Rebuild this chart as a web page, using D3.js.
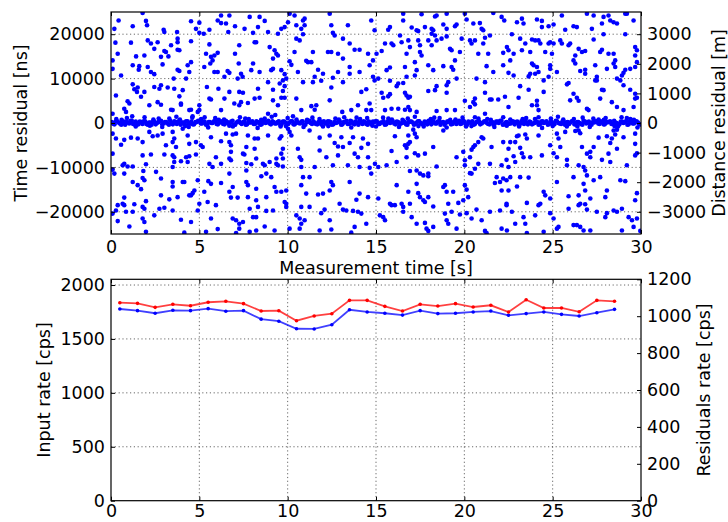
<!DOCTYPE html>
<html>
<head>
<meta charset="utf-8">
<script src="https://cdn.jsdelivr.net/npm/d3@7"></script>
<style>
  body { margin: 0; background: #fff; }
  text { font-family: "DejaVu Sans", sans-serif; fill: #000; }
  .grid line { stroke: #000; stroke-width: 0.6; stroke-dasharray: 1.2,2.6; }
</style>
</head>
<body>
<svg id="chart"></svg>
<script>
// tick values
const timeTicks = [0, 5, 10, 15, 20, 25, 30];
const residualTicks = [-20000, -10000, 0, 10000, 20000];
const distanceTicks = [-3000, -2000, -1000, 0, 1000, 2000, 3000];
const inputTicks = [0, 500, 1000, 1500, 2000];
const residualRateTicks = [0, 200, 400, 600, 800, 1000, 1200];

// bottom panel: 1 s bins
const binTimes = [0.5, 1.5, 2.5, 3.5, 4.5, 5.5, 6.5, 7.5, 8.5, 9.5, 10.5, 11.5, 12.5, 13.5, 14.5,
  15.5, 16.5, 17.5, 18.5, 19.5, 20.5, 21.5, 22.5, 23.5, 24.5, 25.5, 26.5, 27.5, 28.5];
const inputRate = [1836, 1830, 1793, 1821, 1808, 1840, 1849, 1827, 1759, 1762, 1669, 1713, 1734, 1858, 1858,
  1802, 1759, 1821, 1805, 1827, 1796, 1812, 1750, 1864, 1787, 1787, 1752, 1858, 1849];
const residualRate = [1039, 1030, 1016, 1032, 1030, 1041, 1027, 1030, 984, 973, 932, 931, 954, 1035, 1023,
  1016, 1006, 1030, 1014, 1016, 1023, 1028, 1005, 1014, 1023, 1010, 1001, 1019, 1037];

// top panel: [time s, residual us] of uncorrelated hits
const outliers = [
  [1.79,24.8],[6.23,24.2],[6.70,24.2],[6.04,23.1],[6.23,22.5],[6.51,22.4],[0.43,23.1],[1.98,23.0],[2.04,22.0],[1.23,21.8],
  [4.53,22.9],[5.00,22.6],[4.81,21.2],[7.02,21.8],[2.98,21.0],[3.02,20.5],[3.74,20.5],[5.00,20.3],[5.25,20.1],[5.57,21.0],
  [6.64,20.5],[0.19,21.2],[3.77,19.0],[3.77,18.2],[0.25,18.1],[1.13,18.1],[2.08,18.6],[2.26,17.9],[2.64,18.2],[3.40,17.5],
  [4.53,18.4],[5.57,17.7],[7.26,17.5],[2.45,16.7],[3.02,16.2],[3.11,16.0],[3.77,16.5],[3.87,16.4],[0.38,15.6],[1.42,15.0],
  [1.89,15.2],[2.83,14.9],[3.25,15.0],[5.38,15.6],[5.66,14.9],[6.04,15.8],[5.85,15.2],[7.02,15.6],[0.09,14.1],[5.75,14.1],
  [5.62,13.4],[4.53,13.7],[4.34,13.0],[2.92,13.2],[1.23,13.0],[1.60,12.8],[2.08,12.6],[0.09,12.2],[1.57,12.0],[2.26,11.5],
  [2.45,11.0],[3.77,12.0],[3.87,11.7],[4.43,11.5],[5.28,12.6],[5.85,11.5],[6.04,11.5],[6.60,11.7],[6.70,11.3],[7.23,13.4],
  [7.36,11.1],[0.57,10.7],[3.55,10.0],[4.25,10.0],[6.42,10.4],[7.17,10.0],[7.45,10.4],[1.23,8.7],[1.32,7.6],[1.47,7.0],
  [1.51,8.0],[1.89,7.0],[2.45,8.1],[2.74,7.7],[2.83,8.5],[3.21,8.0],[3.58,7.7],[4.06,7.4],[5.43,8.1],[6.08,7.7],
  [6.70,7.0],[7.26,7.0],[0.28,6.2],[1.70,5.9],[3.87,6.0],[3.96,4.4],[5.57,5.5],[5.66,5.3],[6.42,5.5],[0.94,4.9],
  [1.04,4.4],[2.17,4.0],[2.64,4.7],[2.83,4.1],[3.96,4.1],[5.00,4.0],[6.98,4.4],[7.26,4.0],[7.36,4.7],[0.75,3.2],
  [0.85,2.5],[3.40,3.0],[3.49,2.9],[4.43,2.9],[4.53,3.0],[4.91,2.5],[5.00,2.9],[6.23,2.9],[4.62,1.5],[0.09,2.1],
  [4.06,-1.3],[3.49,-2.0],[2.17,-2.0],[2.64,-2.8],[2.92,-2.4],[0.09,-2.4],[0.28,-3.5],[0.75,-3.8],[1.13,-3.3],[1.51,-3.5],
  [2.36,-3.0],[3.58,-3.5],[4.34,-2.8],[4.81,-4.3],[5.09,-5.0],[5.19,-5.4],[5.66,-3.2],[6.23,-4.1],[6.51,-2.4],[6.70,-4.3],
  [6.89,-2.6],[7.08,-2.4],[0.57,-4.9],[1.79,-4.3],[3.11,-5.0],[3.49,-4.3],[3.68,-5.4],[4.43,-4.7],[6.79,-5.0],[0.09,-6.9],
  [1.79,-7.3],[2.26,-7.1],[3.02,-7.1],[3.49,-7.3],[3.58,-7.7],[4.25,-7.7],[4.43,-7.5],[3.96,-8.6],[4.34,-8.8],[4.81,-7.1],
  [5.94,-7.7],[6.79,-6.5],[6.70,-8.0],[6.79,-8.4],[7.55,-7.1],[0.75,-9.2],[0.66,-9.5],[0.94,-9.8],[1.23,-9.8],[1.98,-9.3],
  [3.49,-9.9],[3.58,-8.8],[0.09,-10.5],[0.19,-11.4],[0.75,-11.4],[1.83,-10.8],[2.55,-11.0],[5.75,-9.9],[6.70,-11.4],[5.57,-9.2],
  [6.23,-9.2],[1.79,-12.4],[1.89,-12.9],[1.23,-13.3],[1.51,-14.0],[1.70,-14.9],[2.83,-12.5],[3.49,-13.3],[3.49,-14.3],[4.06,-13.3],
  [4.15,-13.3],[4.91,-12.9],[5.51,-13.1],[5.66,-13.7],[6.23,-13.5],[6.89,-14.4],[5.28,-15.5],[4.53,-16.3],[4.62,-15.8],[4.72,-15.2],
  [6.70,-15.5],[0.75,-16.8],[1.98,-17.6],[2.83,-16.3],[3.30,-17.2],[3.77,-16.7],[4.43,-16.3],[6.79,-16.8],[7.17,-16.8],[0.38,-18.5],
  [0.66,-18.2],[0.75,-18.5],[1.32,-18.3],[1.79,-18.9],[1.89,-19.3],[0.85,-20.0],[1.23,-20.0],[0.28,-19.7],[2.74,-19.3],[3.02,-19.1],
  [3.49,-19.7],[4.91,-19.7],[5.00,-18.2],[5.47,-17.8],[5.94,-18.5],[0.09,-20.4],[0.38,-22.1],[1.79,-21.5],[1.89,-22.3],[2.45,-20.8],
  [3.96,-21.8],[4.53,-22.3],[5.66,-21.5],[6.89,-21.5],[7.08,-21.9],[7.26,-22.7],[1.04,-23.3],[1.98,-24.5],[4.15,-24.7],[5.38,-24.5],
  [6.04,-23.9],[7.26,-23.8],[7.08,-24.8],
  [7.85,23.9],[8.41,23.9],[8.70,23.0],[7.56,21.2],[8.04,20.3],[8.32,21.6],[8.89,20.5],[9.45,20.1],[9.64,21.2],[9.83,21.6],
  [10.02,22.7],[10.39,24.2],[10.11,24.6],[10.49,22.0],[10.87,23.1],[10.96,22.0],[10.96,23.5],[12.38,24.6],[12.47,22.0],[12.56,20.3],
  [12.66,19.7],[13.13,19.0],[13.41,22.0],[14.73,23.1],[14.92,20.9],[10.77,21.2],[10.87,20.0],[10.49,19.0],[10.68,18.6],[8.13,18.2],
  [8.22,18.2],[8.98,17.1],[9.26,16.4],[9.36,15.6],[9.45,15.2],[9.17,14.5],[10.39,16.0],[11.43,16.0],[12.28,16.0],[12.47,16.0],
  [12.85,15.6],[13.13,14.5],[13.51,17.9],[13.79,16.5],[14.07,16.5],[14.55,15.6],[14.83,14.1],[11.05,14.0],[11.15,13.7],[11.34,13.7],
  [10.11,13.9],[10.21,13.1],[8.04,13.4],[7.94,11.9],[8.41,11.5],[9.07,11.9],[9.17,12.2],[9.64,11.9],[9.83,11.0],[10.58,11.5],
  [11.72,12.0],[12.00,11.1],[12.85,11.5],[13.51,12.6],[13.51,11.1],[14.07,11.5],[14.64,13.0],[8.89,9.2],[9.55,8.9],[9.73,9.6],
  [9.92,10.0],[10.87,9.2],[11.43,9.2],[11.53,10.4],[11.90,9.5],[12.56,10.2],[13.13,9.2],[14.83,10.4],[14.92,9.6],[7.47,6.8],
  [8.32,7.7],[9.17,7.5],[9.73,7.2],[9.83,8.3],[8.41,5.7],[8.13,5.5],[9.17,5.1],[9.64,5.7],[9.83,5.7],[10.49,5.5],
  [12.47,8.0],[12.38,5.1],[14.17,7.0],[14.45,7.6],[7.75,4.5],[9.45,4.0],[11.34,3.8],[11.53,3.0],[11.62,4.0],[13.09,2.5],
  [13.98,4.0],[14.64,4.4],[14.45,2.9],[13.60,2.9],[10.77,2.9],[14.73,2.9],[8.89,2.1],
  [7.75,-2.8],[8.13,-3.5],[8.32,-3.5],[8.89,-2.8],[9.55,-3.5],[9.64,-3.0],[10.11,-2.0],[10.21,-2.8],[10.02,-1.3],[11.24,-1.7],
  [11.81,-3.3],[12.38,-2.8],[13.04,-3.2],[12.66,-4.5],[12.85,-5.3],[13.13,-5.4],[13.51,-4.5],[13.70,-3.2],[14.26,-3.5],[14.55,-4.7],
  [7.47,-6.9],[7.66,-5.4],[8.13,-5.8],[9.73,-5.8],[10.58,-5.8],[13.79,-6.9],[13.98,-7.7],[14.17,-5.6],[14.55,-7.7],[8.22,-8.0],
  [9.36,-8.0],[9.64,-6.9],[9.73,-8.0],[10.68,-7.7],[10.77,-8.3],[12.19,-7.7],[11.81,-6.2],[12.85,-7.3],[7.66,-9.0],[7.94,-9.3],
  [8.60,-9.2],[8.70,-9.5],[8.98,-8.8],[9.36,-9.2],[9.45,-9.5],[9.73,-9.8],[10.77,-9.9],[11.53,-9.9],[12.56,-9.5],[13.41,-9.5],
  [14.07,-9.9],[14.64,-10.1],[14.73,-11.4],[7.66,-10.7],[8.79,-11.4],[11.24,-12.2],[7.66,-13.3],[7.75,-14.0],[8.22,-14.8],[8.51,-12.0],
  [9.07,-12.2],[9.26,-14.4],[9.36,-15.5],[9.64,-15.5],[9.92,-15.2],[10.87,-12.2],[10.77,-14.0],[11.05,-15.9],[11.72,-16.1],[12.00,-15.9],
  [12.47,-13.3],[12.56,-14.0],[12.38,-15.2],[13.51,-13.3],[14.07,-15.9],[7.75,-16.7],[8.22,-17.4],[8.79,-16.7],[9.83,-17.8],[9.92,-18.2],
  [12.94,-18.2],[13.89,-17.3],[14.55,-16.7],[7.85,-19.3],[8.32,-18.9],[8.79,-19.8],[9.17,-19.7],[9.92,-18.9],[10.77,-18.9],[11.24,-18.9],
  [11.90,-20.3],[12.09,-19.5],[12.38,-21.9],[13.13,-19.5],[13.32,-19.7],[13.70,-19.8],[13.98,-20.0],[14.17,-20.4],[7.47,-22.3],[8.04,-21.2],
  [8.22,-21.2],[8.70,-23.3],[9.26,-24.2],[8.22,-24.2],[7.85,-24.5],[10.11,-23.8],[10.49,-20.8],[10.68,-21.5],[10.77,-22.7],[10.68,-23.8],
  [10.96,-21.9],[11.81,-24.2],[12.47,-24.0],[13.60,-24.7],[13.79,-23.4],[14.45,-22.7],
  [16.54,24.6],[17.58,24.5],[18.34,24.0],[18.43,24.2],[19.00,24.6],[20.03,24.6],[21.64,24.8],[15.79,21.6],[15.69,21.0],[16.54,23.1],
  [17.02,21.5],[17.30,20.9],[17.39,20.7],[17.77,21.6],[18.15,21.2],[18.24,20.9],[18.81,22.2],[19.00,21.2],[19.47,21.8],[19.56,22.2],
  [20.13,23.3],[20.51,22.4],[20.88,22.5],[20.98,21.2],[21.07,20.9],[22.11,23.9],[22.26,23.1],[18.15,20.1],[18.34,19.7],[15.51,17.9],
  [15.88,17.9],[15.98,17.5],[16.36,19.7],[16.45,18.2],[16.83,18.6],[16.92,17.1],[17.39,18.6],[17.49,17.5],[17.96,18.6],[18.15,17.5],
  [18.43,18.6],[18.71,19.0],[19.00,19.5],[19.85,19.0],[20.32,18.6],[20.41,17.9],[20.60,18.6],[21.17,19.2],[21.07,17.9],[21.45,19.7],
  [15.03,15.6],[15.32,16.2],[16.73,15.6],[17.49,16.0],[17.58,15.2],[19.19,16.7],[19.28,16.4],[19.75,16.0],[20.79,15.6],[21.35,15.6],
  [22.20,15.8],[17.20,13.7],[17.96,13.0],[18.24,11.9],[18.81,12.8],[19.28,12.6],[19.37,12.0],[19.47,14.1],[21.26,12.8],[21.64,11.5],
  [22.20,13.0],[15.60,11.9],[15.79,12.5],[16.64,12.6],[17.30,11.9],[17.20,10.7],[16.73,10.4],[16.54,9.0],[16.17,8.3],[16.26,8.9],
  [15.79,9.5],[15.13,10.0],[19.09,9.2],[19.00,8.5],[19.56,10.0],[20.69,10.0],[21.17,9.2],[15.32,6.8],[15.41,5.7],[15.69,6.0],
  [15.79,6.5],[16.64,6.8],[16.73,6.2],[16.83,5.7],[16.92,5.9],[17.96,7.2],[18.34,7.4],[18.43,8.3],[19.00,6.8],[20.03,5.0],
  [20.60,5.5],[20.51,4.7],[20.32,3.6],[20.60,4.2],[21.45,5.3],[21.54,5.3],[21.92,5.3],[22.30,5.9],[21.17,6.8],[15.88,3.2],
  [16.26,3.2],[16.64,3.0],[16.83,3.6],[16.92,2.9],[18.43,2.7],[19.00,2.9],[19.47,2.9],[15.51,2.9],[17.30,2.5],[21.17,2.1],
  [17.11,-1.5],[17.20,-2.4],[17.30,-3.2],[16.83,-2.8],[16.92,-4.3],[16.83,-4.7],[16.64,-5.0],[16.73,-5.6],[16.07,-3.0],[18.81,-1.7],
  [18.24,-5.4],[17.77,-6.9],[17.39,-7.3],[17.20,-6.8],[16.73,-7.7],[15.88,-6.3],[20.98,-3.2],[21.07,-3.5],[20.79,-4.3],[20.60,-5.0],
  [20.51,-5.4],[21.54,-5.4],[22.20,-4.3],[20.41,-6.0],[19.94,-6.5],[20.32,-7.7],[19.56,-7.7],[20.03,-8.4],[14.94,-9.2],[15.13,-9.9],
  [15.60,-9.5],[16.17,-8.8],[16.92,-10.8],[17.30,-10.7],[17.49,-11.4],[17.68,-11.8],[17.96,-11.4],[18.43,-9.8],[20.03,-9.5],[20.32,-11.3],
  [20.41,-11.4],[20.60,-10.3],[20.79,-9.2],[21.45,-9.2],[22.11,-9.5],[22.39,-8.3],[21.83,-12.2],[22.20,-12.5],[17.96,-12.0],[16.17,-14.0],
  [16.83,-15.5],[17.30,-13.7],[17.39,-15.8],[17.49,-16.7],[17.68,-17.4],[17.77,-17.8],[17.96,-16.7],[18.81,-14.4],[18.90,-14.0],[19.00,-15.5],
  [19.37,-15.5],[20.03,-14.0],[20.13,-15.0],[20.22,-16.7],[19.94,-17.4],[19.09,-18.2],[21.73,-13.5],[22.02,-13.3],[22.39,-12.9],[22.11,-15.2],
  [22.39,-18.2],[15.13,-17.0],[15.79,-18.2],[15.88,-18.5],[16.07,-18.5],[16.45,-18.2],[16.54,-18.9],[16.92,-18.2],[18.24,-18.8],[19.66,-18.0],
  [15.22,-20.8],[15.41,-21.2],[15.51,-21.9],[16.54,-20.0],[17.02,-21.2],[17.30,-22.7],[17.77,-22.5],[17.86,-23.8],[17.96,-24.3],[18.24,-23.4],
  [18.90,-20.4],[19.00,-21.9],[19.09,-22.7],[19.28,-20.0],[19.75,-20.6],[20.13,-20.3],[20.41,-21.5],[20.69,-19.5],[20.98,-21.9],[21.45,-20.0],
  [22.02,-19.7],[22.39,-18.5],[22.11,-23.8],[21.17,-24.3],[21.26,-24.8],[19.56,-23.8],
  [22.98,22.7],[23.26,23.5],[23.35,22.4],[24.11,23.3],[24.39,23.0],[24.39,21.6],[24.77,21.8],[25.05,22.2],[25.52,24.2],[25.71,21.0],
  [26.18,21.8],[26.37,21.6],[26.94,24.6],[27.32,24.2],[27.79,22.4],[27.88,23.9],[28.16,24.2],[28.26,23.1],[28.45,22.7],[28.64,22.4],
  [29.11,24.6],[29.20,24.6],[27.22,21.2],[29.58,23.1],[22.69,20.0],[23.16,19.0],[23.45,17.9],[23.83,18.8],[24.01,18.6],[24.20,18.6],
  [24.30,17.9],[24.77,17.9],[24.86,18.2],[25.05,17.9],[25.43,18.6],[25.52,17.9],[25.90,17.5],[25.99,17.9],[26.47,16.7],[26.66,16.0],
  [26.84,16.2],[27.32,18.8],[27.88,20.0],[29.11,20.0],[22.41,17.1],[22.50,16.4],[22.79,15.6],[23.26,16.4],[23.73,16.0],[24.58,16.0],
  [24.96,15.6],[26.28,15.2],[27.79,16.5],[27.69,16.0],[28.45,15.6],[28.16,15.6],[28.54,14.1],[29.67,17.1],[29.77,16.4],[29.67,15.2],
  [22.60,14.1],[23.83,13.4],[23.92,13.0],[24.11,12.6],[24.01,11.1],[24.20,11.5],[23.73,11.1],[23.64,10.5],[24.86,13.0],[24.86,12.2],
  [25.24,11.5],[24.77,10.4],[24.49,9.6],[26.18,14.1],[26.28,13.4],[26.56,11.7],[26.84,12.0],[26.84,11.1],[27.41,13.0],[27.50,10.4],
  [27.50,9.6],[28.07,12.2],[28.45,13.4],[28.54,12.6],[28.64,10.0],[28.83,9.6],[28.92,10.7],[29.01,11.3],[29.11,12.0],[29.39,12.2],
  [29.67,12.6],[29.77,13.7],[22.50,11.3],[22.79,10.7],[23.16,8.3],[23.64,7.5],[24.49,7.0],[25.81,8.7],[25.90,9.0],[26.18,6.6],
  [26.37,5.7],[27.41,9.6],[27.79,7.5],[27.88,7.4],[29.01,8.5],[29.39,7.5],[29.67,6.6],[29.77,5.7],[23.07,5.7],[24.11,5.0],
  [23.83,4.0],[24.11,4.0],[24.20,2.9],[25.99,5.1],[26.47,5.0],[26.94,3.2],[27.03,2.9],[27.69,5.5],[28.35,4.7],[28.64,3.6],
  [29.01,2.9],[29.67,5.5],[22.50,3.6],[29.58,3.6],
  [22.98,-3.0],[23.07,-2.8],[22.88,-4.3],[23.45,-2.6],[23.54,-3.5],[22.60,-4.3],[24.20,-2.8],[25.24,-2.4],[25.33,-3.5],[25.71,-2.0],
  [26.28,-1.8],[26.47,-1.7],[26.56,-2.3],[27.60,-3.3],[28.07,-3.0],[28.45,-1.7],[28.54,-2.6],[28.35,-3.5],[28.26,-4.5],[28.64,-1.5],
  [29.01,-3.2],[29.67,-2.4],[29.67,-4.7],[22.50,-5.8],[23.16,-5.6],[24.86,-5.0],[25.43,-5.4],[26.66,-5.4],[27.32,-5.4],[26.94,-6.9],
  [27.13,-6.5],[28.16,-6.9],[28.64,-5.8],[29.77,-6.8],[22.79,-7.5],[23.26,-6.8],[23.35,-7.7],[22.88,-8.8],[23.73,-7.7],[24.39,-7.3],
  [25.05,-6.8],[25.24,-7.7],[25.81,-8.3],[26.47,-9.5],[26.75,-9.9],[26.84,-10.7],[26.94,-11.8],[27.13,-7.7],[27.79,-8.3],[28.26,-8.8],
  [29.67,-7.3],[29.20,-9.5],[25.81,-9.5],[22.50,-9.9],[22.60,-12.2],[23.16,-12.2],[23.64,-12.3],[22.50,-15.2],[22.98,-14.3],[24.49,-15.5],
  [24.58,-16.3],[25.24,-13.3],[26.18,-12.2],[26.75,-13.7],[26.84,-15.2],[27.32,-12.9],[27.69,-12.2],[28.83,-12.9],[29.11,-13.1],[29.77,-15.8],
  [29.67,-17.4],[28.07,-15.2],[27.98,-16.7],[25.90,-16.5],[26.47,-16.3],[27.13,-17.0],[24.30,-18.2],[24.86,-17.0],[23.54,-18.0],[22.69,-20.0],
  [23.35,-21.2],[23.45,-22.7],[24.01,-20.8],[24.20,-18.5],[24.86,-20.3],[25.05,-21.5],[25.33,-23.4],[25.90,-19.3],[26.47,-18.5],[26.56,-18.2],
  [26.84,-18.3],[26.94,-19.5],[26.18,-23.0],[26.37,-23.0],[26.56,-23.4],[26.75,-24.2],[27.13,-24.2],[27.50,-20.0],[27.98,-21.2],[28.07,-20.3],
  [28.45,-19.7],[28.64,-20.0],[28.92,-19.3],[29.30,-21.2],[29.49,-21.9],[29.77,-21.5],[29.58,-23.4],[28.92,-24.2],[24.49,-24.5],[25.24,-23.8],
  [23.54,-24.8],[22.88,-22.7],[22.41,-24.2],[29.96,-24.3]
];

// top panel: [time s, residual us] of correlated hits (the dense band at zero)
const bandHits = [
  [0.05,0.2],[0.2,-0.3],[0.35,0.4],[0.5,-0.1],[0.65,0.3],[0.8,-0.4],[0.95,0.1],[1.1,0.5],[1.25,-0.2],[1.4,0.3],
  [1.55,-0.3],[1.7,0.2],[1.85,0.4],[2.0,-0.2],[2.15,0.1],[2.3,-0.4],[2.45,0.3],[2.6,0.0],[2.75,0.4],[2.9,-0.3],
  [3.05,0.2],[3.2,-0.1],[3.35,0.5],[3.5,-0.3],[3.65,0.2],[3.8,0.3],[3.95,-0.4],[4.1,0.1],[4.25,0.4],[4.4,-0.2],
  [4.55,0.3],[4.7,-0.3],[4.85,0.2],[5.0,0.4],[5.15,-0.1],[5.3,0.3],[5.45,-0.4],[5.6,0.2],[5.75,0.0],[5.9,0.4],
  [6.05,-0.3],[6.2,0.2],[6.35,-0.2],[6.5,0.5],[6.65,-0.1],[6.8,0.3],[6.95,-0.4],[7.1,0.1],[7.25,0.4],[7.4,-0.2],
  [7.55,0.3],[7.7,-0.3],[7.85,0.1],[8.0,0.4],[8.15,-0.2],[8.3,0.2],[8.45,-0.4],[8.6,0.3],[8.75,0.0],[8.9,0.5],
  [9.05,-0.3],[9.2,0.2],[9.35,-0.1],[9.5,0.4],[9.65,-0.3],[9.8,0.3],[9.95,-0.2],[10.1,0.1],[10.25,0.4],[10.4,-0.3],
  [10.55,0.2],[10.7,-0.1],[10.85,0.4],[11.0,-0.4],[11.15,0.3],[11.3,0.0],[11.45,0.4],[11.6,-0.2],[11.75,0.2],[11.9,-0.3],
  [12.05,0.4],[12.2,-0.1],[12.35,0.3],[12.5,-0.4],[12.65,0.2],[12.8,0.1],[12.95,0.4],[13.1,-0.3],[13.25,0.2],[13.4,-0.2],
  [13.55,0.5],[13.7,-0.1],[13.85,0.3],[14.0,-0.4],[14.15,0.1],[14.3,0.4],[14.45,-0.2],[14.6,0.3],[14.75,-0.3],[14.9,0.2],
  [15.05,0.4],[15.2,-0.2],[15.35,0.1],[15.5,-0.4],[15.65,0.3],[15.8,0.0],[15.95,0.4],[16.1,-0.3],[16.25,0.2],[16.4,-0.1],
  [16.55,0.5],[16.7,-0.3],[16.85,0.2],[17.0,0.3],[17.15,-0.4],[17.3,0.1],[17.45,0.4],[17.6,-0.2],[17.75,0.3],[17.9,-0.3],
  [18.05,0.2],[18.2,0.4],[18.35,-0.1],[18.5,0.3],[18.65,-0.4],[18.8,0.2],[18.95,0.0],[19.1,0.4],[19.25,-0.3],[19.4,0.2],
  [19.55,-0.2],[19.7,0.5],[19.85,-0.1],[20.0,0.3],[20.15,-0.4],[20.3,0.1],[20.45,0.4],[20.6,-0.2],[20.75,0.3],[20.9,-0.3],
  [21.05,0.1],[21.2,0.4],[21.35,-0.2],[21.5,0.2],[21.65,-0.4],[21.8,0.3],[21.95,0.0],[22.1,0.5],[22.25,-0.3],[22.4,0.2],
  [22.55,-0.1],[22.7,0.4],[22.85,-0.3],[23.0,0.3],[23.15,-0.2],[23.3,0.1],[23.45,0.4],[23.6,-0.3],[23.75,0.2],[23.9,-0.1],
  [24.05,0.4],[24.2,-0.4],[24.35,0.3],[24.5,0.0],[24.65,0.4],[24.8,-0.2],[24.95,0.2],[25.1,-0.3],[25.25,0.4],[25.4,-0.1],
  [25.55,0.3],[25.7,-0.4],[25.85,0.2],[26.0,0.1],[26.15,0.4],[26.3,-0.3],[26.45,0.2],[26.6,-0.2],[26.75,0.5],[26.9,-0.1],
  [27.05,0.3],[27.2,-0.4],[27.35,0.1],[27.5,0.4],[27.65,-0.2],[27.8,0.3],[27.95,-0.3],[28.1,0.2],[28.25,0.4],[28.4,-0.2],
  [28.55,0.1],[28.7,-0.4],[28.85,0.3],[29.0,0.0],[29.15,0.4],[29.3,-0.3],[29.45,0.2],[29.6,-0.1],[29.75,0.4],[29.9,-0.3],
  [0.13,-0.2],[0.28,0.4],[0.43,0.1],[0.58,-0.4],[0.73,0.3],[0.88,0.2],[1.03,-0.1],[1.18,0.5],[1.33,-0.3],[1.48,0.0],
  [1.63,0.3],[1.78,-0.2],[1.93,0.4],[2.08,-0.4],[2.23,0.1],[2.38,0.3],[2.53,-0.3],[2.68,0.2],[2.83,0.5],[2.98,-0.1],
  [3.13,0.2],[3.28,-0.4],[3.43,0.0],[3.58,0.4],[3.73,-0.2],[3.88,0.3],[4.03,0.1],[4.18,-0.3],[4.33,0.4],[4.48,-0.1],
  [4.63,-0.3],[4.78,0.2],[4.93,0.5],[5.08,-0.1],[5.23,0.3],[5.38,-0.4],[5.53,0.2],[5.68,0.0],[5.83,0.4],[5.98,-0.2],
  [6.13,0.1],[6.28,0.4],[6.43,-0.3],[6.58,0.2],[6.73,-0.1],[6.88,0.5],[7.03,-0.4],[7.18,0.3],[7.33,0.0],[7.48,0.2],
  [7.63,-0.4],[7.78,0.3],[7.93,0.1],[8.08,-0.2],[8.23,0.4],[8.38,0.0],[8.53,-0.3],[8.68,0.5],[8.83,0.2],[8.98,-0.1],
  [9.13,0.4],[9.28,-0.1],[9.43,0.2],[9.58,-0.4],[9.73,0.3],[9.88,0.1],[10.03,-0.2],[10.18,0.4],[10.33,-0.3],[10.48,0.2],
  [10.63,0.0],[10.78,0.3],[10.93,-0.4],[11.08,0.2],[11.23,0.5],[11.38,-0.2],[11.53,0.1],[11.68,-0.3],[11.83,0.4],[11.98,0.2],
  [12.13,-0.1],[12.28,0.4],[12.43,0.2],[12.58,-0.3],[12.73,0.0],[12.88,0.3],[13.03,-0.4],[13.18,0.2],[13.33,0.5],[13.48,-0.2],
  [13.63,0.3],[13.78,-0.3],[13.93,0.1],[14.08,0.4],[14.23,-0.2],[14.38,0.2],[14.53,-0.4],[14.68,0.0],[14.83,0.3],[14.98,0.4],
  [15.13,-0.2],[15.28,0.1],[15.43,0.4],[15.58,-0.3],[15.73,0.2],[15.88,0.5],[16.03,-0.1],[16.18,0.3],[16.33,-0.4],[16.48,0.0],
  [16.63,0.2],[16.78,-0.4],[16.93,0.3],[17.08,0.1],[17.23,-0.2],[17.38,0.4],[17.53,0.0],[17.68,-0.3],[17.83,0.2],[17.98,0.5],
  [18.13,-0.3],[18.28,0.2],[18.43,-0.1],[18.58,0.4],[18.73,0.1],[18.88,-0.4],[19.03,0.3],[19.18,0.2],[19.33,-0.2],[19.48,0.4],
  [19.63,0.1],[19.78,-0.2],[19.93,0.5],[20.08,-0.3],[20.23,0.3],[20.38,0.0],[20.53,-0.4],[20.68,0.2],[20.83,0.4],[20.98,-0.1],
  [21.13,0.4],[21.28,0.0],[21.43,-0.3],[21.58,0.2],[21.73,-0.1],[21.88,0.3],[22.03,0.5],[22.18,-0.4],[22.33,0.1],[22.48,-0.2],
  [22.63,-0.1],[22.78,0.3],[22.93,0.2],[23.08,-0.4],[23.23,0.4],[23.38,-0.2],[23.53,0.1],[23.68,0.3],[23.83,-0.3],[23.98,0.0],
  [24.13,0.2],[24.28,-0.3],[24.43,0.4],[24.58,0.1],[24.73,-0.4],[24.88,0.3],[25.03,-0.1],[25.18,0.5],[25.33,0.0],[25.48,-0.2],
  [25.63,0.3],[25.78,0.1],[25.93,-0.2],[26.08,0.4],[26.23,-0.3],[26.38,0.2],[26.53,0.0],[26.68,-0.4],[26.83,0.3],[26.98,0.1],
  [27.13,-0.4],[27.28,0.2],[27.43,0.4],[27.58,-0.1],[27.73,0.3],[27.88,-0.3],[28.03,0.1],[28.18,0.2],[28.33,-0.2],[28.48,0.5],
  [28.63,0.0],[28.78,-0.3],[28.93,0.3],[29.08,0.2],[29.23,-0.4],[29.38,0.4],[29.53,-0.1],[29.68,0.2],[29.83,0.1],[29.98,-0.3],
  [0.3,0.9],[0.9,1.1],[1.4,-0.8],[1.9,1.3],[2.4,0.8],[2.9,-0.9],[3.3,1.0],[3.7,1.4],[4.2,-0.7],[4.6,1.2],
  [5.1,0.9],[5.5,-1.0],[5.9,1.1],[6.4,0.8],[6.9,-0.8],[7.3,1.3],[7.8,0.9],[8.3,-1.1],[8.7,1.0],[9.1,1.4],
  [9.6,-0.8],[10.0,1.1],[10.5,0.8],[10.9,-0.9],[11.4,1.2],[11.8,0.9],[12.3,-0.7],[12.7,1.0],[13.2,1.3],[13.6,-1.0],
  [14.1,0.9],[14.5,1.1],[15.0,-0.8],[15.4,1.2],[15.9,0.8],[16.3,-0.9],[16.8,1.0],[17.2,1.4],[17.7,-0.8],[18.1,0.9],
  [18.6,1.1],[19.0,-1.0],[19.5,0.8],[19.9,1.2],[20.4,-0.7],[20.8,1.0],[21.3,0.9],[21.7,-0.9],[22.2,1.3],[22.6,0.8],
  [23.1,-0.8],[23.5,1.1],[24.0,0.9],[24.4,-1.1],[24.9,1.0],[25.3,1.4],[25.8,-0.8],[26.2,0.9],[26.7,1.2],[27.1,-0.9],
  [27.6,0.8],[28.0,1.1],[28.5,-0.7],[28.9,1.3],[29.4,0.9],[29.8,-1.0],
  [0.6,0.7],[1.2,1.5],[2.2,-0.6],[2.7,1.0],[3.9,0.8],[4.4,-0.9],[5.3,1.3],[6.1,0.7],[6.7,-0.6],[7.6,1.0],
  [8.5,0.7],[9.3,1.8],[9.9,-0.7],[10.3,1.5],[11.1,0.7],[12.0,-0.8],[12.9,0.8],[13.9,1.2],[14.8,-0.6],[15.7,1.0],
  [16.5,0.7],[17.4,-0.7],[18.3,1.2],[19.2,0.7],[20.1,-0.8],[20.6,1.3],[21.5,0.7],[22.4,-0.6],[23.3,0.9],[24.2,1.3],
  [25.0,-0.7],[25.6,0.8],[26.4,-0.8],[27.3,1.0],[27.9,0.7],[28.7,-0.8],[29.2,1.1],[29.6,0.7]
];

const W = 728, H = 522;
const left = 111, right = 641;
const topPanel = { top: 12, bottom: 234 };
const botPanel = { top: 279.3, bottom: 500.7 };

const svg = d3.select("#chart")
  .attr("width", W)
  .attr("height", H);

const x = d3.scaleLinear().domain([0, 30]).range([left, right]);

// ---------- top panel ----------
const yNs = d3.scaleLinear().domain([-25000, 25000]).range([topPanel.bottom, topPanel.top]);
const yM = d3.scaleLinear().domain([-3750, 3750]).range([topPanel.bottom, topPanel.top]);

function grid(g, xs, ys, yScale, panel) {
  const gg = g.append("g").attr("class", "grid");
  gg.selectAll(".gx").data(xs).enter().append("line")
    .attr("x1", d => x(d)).attr("x2", d => x(d))
    .attr("y1", panel.top).attr("y2", panel.bottom);
  gg.selectAll(".gy").data(ys).enter().append("line")
    .attr("x1", left).attr("x2", right)
    .attr("y1", d => yScale(d)).attr("y2", d => yScale(d));
}

grid(svg, timeTicks.slice(1, -1), residualTicks, yNs, topPanel);

svg.append("clipPath").attr("id", "clipTop")
  .append("rect").attr("x", left).attr("y", topPanel.top)
  .attr("width", right - left).attr("height", topPanel.bottom - topPanel.top);

const dots = svg.append("g").attr("clip-path", "url(#clipTop)");
dots.selectAll(".band")
  .data(bandHits)
  .enter().append("circle")
  .attr("cx", d => x(d[0]))
  .attr("cy", d => yNs(d[1] * 1000))
  .attr("r", 2.3)
  .attr("fill", "#0000ff");
dots.selectAll(".out")
  .data(outliers)
  .enter().append("circle")
  .attr("cx", d => x(d[0]))
  .attr("cy", d => yNs(d[1] * 1000))
  .attr("r", 2.3)
  .attr("fill", "#0000ff");

// ---------- bottom panel ----------
const yIn = d3.scaleLinear().domain([0, 2053]).range([botPanel.bottom, botPanel.top]);
const yRes = d3.scaleLinear().domain([0, 1200]).range([botPanel.bottom, botPanel.top]);

grid(svg, timeTicks.slice(1, -1), inputTicks.slice(1), yIn, botPanel);

const rateLine = (scale, vals) => d3.line()
  .x((d, i) => x(binTimes[i]))
  .y((d, i) => scale(vals[i]));

const series = [
  { vals: residualRate, scale: yRes, color: "#0000ff" },
  { vals: inputRate, scale: yIn, color: "#ff0000" }
];
series.forEach(s => {
  svg.append("path")
    .datum(s.vals)
    .attr("d", rateLine(s.scale, s.vals))
    .attr("fill", "none")
    .attr("stroke", s.color)
    .attr("stroke-opacity", 0.75)
    .attr("stroke-width", 1.8);
  svg.selectAll(null)
    .data(s.vals)
    .enter().append("circle")
    .attr("cx", (d, i) => x(binTimes[i]))
    .attr("cy", d => s.scale(d))
    .attr("r", 1.8)
    .attr("fill", s.color);
});

// ---------- axes ----------
const fontSize = "17.5px";
function styleAxis(g) {
  g.select(".domain").remove();
  g.selectAll(".tick line").attr("stroke", "#000").attr("stroke-width", 1);
  g.selectAll(".tick text").style("font-size", fontSize).attr("fill", "#000");
}

function drawAxes(panel, yl, ylTicks, yr, yrTicks, xPad) {
  const h = panel.bottom - panel.top;
  svg.append("g")
    .attr("transform", "translate(0," + panel.bottom + ")")
    .call(d3.axisBottom(x).tickValues(timeTicks).tickSize(-4).tickPadding(xPad).tickFormat(d3.format("d")))
    .call(styleAxis);
  svg.append("g")
    .attr("transform", "translate(0," + panel.top + ")")
    .call(d3.axisTop(x).tickValues(timeTicks).tickSize(-4).tickFormat(""))
    .call(styleAxis);
  svg.append("g")
    .attr("transform", "translate(" + left + ",0)")
    .call(d3.axisLeft(yl).tickValues(ylTicks).tickSize(-4).tickPadding(6).tickFormat(d3.format("d")))
    .call(styleAxis);
  svg.append("g")
    .attr("transform", "translate(" + right + ",0)")
    .call(d3.axisRight(yr).tickValues(yrTicks).tickSize(-4).tickPadding(6).tickFormat(d3.format("d")))
    .call(styleAxis);
  svg.append("rect")
    .attr("x", left).attr("y", panel.top)
    .attr("width", right - left).attr("height", h)
    .attr("fill", "none").attr("stroke", "#000").attr("stroke-width", 1.2);
}

drawAxes(topPanel, yNs, residualTicks, yM, distanceTicks, 7);
drawAxes(botPanel, yIn, inputTicks, yRes, residualRateTicks, 4);

// axis titles
function vLabel(xPos, yPos, txt) {
  svg.append("text")
    .attr("transform", "translate(" + xPos + "," + yPos + ") rotate(-90)")
    .attr("text-anchor", "middle")
    .attr("dominant-baseline", "central")
    .style("font-size", fontSize)
    .text(txt);
}
vLabel(21, (topPanel.top + topPanel.bottom) / 2, "Time residual [ns]");
vLabel(719, (topPanel.top + topPanel.bottom) / 2, "Distance residual [m]");
vLabel(44, (botPanel.top + botPanel.bottom) / 2, "Input rate [cps]");
vLabel(704, (botPanel.top + botPanel.bottom) / 2, "Residuals rate [cps]");

svg.append("text")
  .attr("x", (left + right) / 2)
  .attr("y", 268)
  .attr("text-anchor", "middle")
  .attr("dominant-baseline", "central")
  .style("font-size", fontSize)
  .text("Measurement time [s]");
</script>
</body>
</html>
